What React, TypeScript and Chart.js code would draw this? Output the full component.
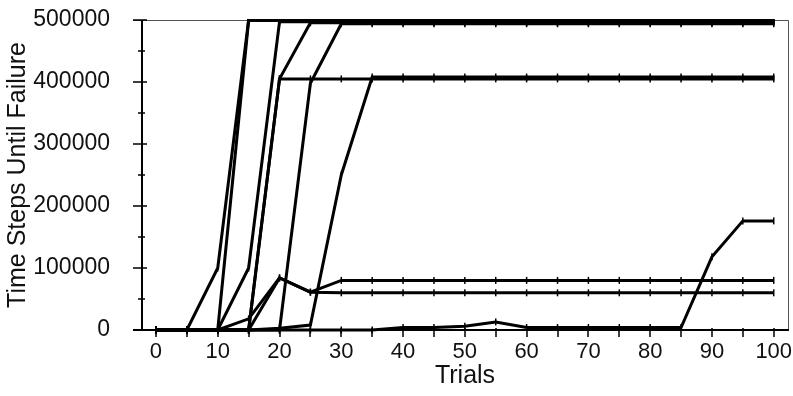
import React, { useEffect, useRef } from "react";
import { Chart, registerables } from "chart.js";

Chart.register(...registerables);

const trials = [0, 5, 10, 15, 20, 25, 30, 35, 40, 45, 50, 55, 60, 65, 70, 75, 80, 85, 90, 95, 100];

const run1 = [0, 0, 100000, 500000, 500000, 500000, 500000, 500000, 500000, 500000, 500000, 500000, 500000, 500000, 500000, 500000, 500000, 500000, 500000, 500000, 500000];
const run2 = [0, 0, 0, 499000, 499000, 499000, 499000, 499000, 499000, 499000, 499000, 499000, 499000, 499000, 499000, 499000, 499000, 499000, 499000, 499000, 499000];
const run3 = [0, 0, 0, 100000, 497000, 497000, 497000, 497000, 497000, 497000, 497000, 497000, 497000, 497000, 497000, 497000, 497000, 497000, 497000, 497000, 497000];
const run4 = [0, 0, 0, 0, 405000, 495500, 495500, 495500, 495500, 495500, 495500, 495500, 495500, 495500, 495500, 495500, 495500, 495500, 495500, 495500, 495500];
const run5 = [0, 0, 0, 0, 0, 398000, 494000, 494000, 494000, 494000, 494000, 494000, 494000, 494000, 494000, 494000, 494000, 494000, 494000, 494000, 494000];
const run6 = [0, 0, 0, 0, 405000, 405000, 405000, 405000, 405000, 405000, 405000, 405000, 405000, 405000, 405000, 405000, 405000, 405000, 405000, 405000, 405000];
const run7 = [0, 0, 0, 0, 3000, 8000, 250000, 408000, 408000, 408000, 408000, 408000, 408000, 408000, 408000, 408000, 408000, 408000, 408000, 408000, 408000];
const run8 = [0, 0, 0, 18000, 84000, 61000, 80000, 80000, 80000, 80000, 80000, 80000, 80000, 80000, 80000, 80000, 80000, 80000, 80000, 80000, 80000];
const run9 = [0, 0, 0, 0, 84000, 61000, 60000, 60000, 60000, 60000, 60000, 60000, 60000, 60000, 60000, 60000, 60000, 60000, 60000, 60000, 60000];
const run10 = [0, 0, 0, 0, 0, 0, 0, 0, 4000, 4000, 6000, 13000, 4000, 4000, 4000, 4000, 4000, 4000, 118000, 176000, 176000];

const runs = [run1, run2, run3, run4, run5, run6, run7, run8, run9, run10];

const xTickLabels = [0, 10, 20, 30, 40, 50, 60, 70, 80, 90, 100];
const xMinorTicks = [0, 5, 10, 15, 20, 25, 30, 35, 40, 45, 50, 55, 60, 65, 70, 75, 80, 85, 90, 95, 100];
const yTicks = [0, 50000, 100000, 150000, 200000, 250000, 300000, 350000, 400000, 450000, 500000];

const FONT = "'Liberation Sans', Arial, sans-serif";

const axesPlugin = {
  id: "customAxes",
  beforeDatasetsDraw(chart: any) {
    const { ctx, chartArea, scales } = chart;
    const { left, right, top, bottom } = chartArea;
    const xs = scales.x;
    const ys = scales.y;
    ctx.save();
    ctx.strokeStyle = "#555";
    ctx.lineWidth = 1;
    ctx.beginPath();
    ctx.moveTo(left - 9, top + 0.5);
    ctx.lineTo(right + 0.5, top + 0.5);
    ctx.lineTo(right + 0.5, bottom);
    ctx.stroke();
    ctx.strokeStyle = "#000";
    ctx.lineWidth = 2;
    ctx.beginPath();
    ctx.moveTo(left, top);
    ctx.lineTo(left, bottom + 1);
    ctx.moveTo(left - 9, bottom);
    ctx.lineTo(right + 1, bottom);
    ctx.stroke();
    ctx.lineWidth = 1.5;
    ctx.beginPath();
    for (const v of yTicks) {
      const py = Math.round(ys.getPixelForValue(v));
      const major = v % 100000 === 0;
      ctx.moveTo(left - (major ? 9 : 4), py);
      ctx.lineTo(left + (major ? 5 : 3), py);
    }
    for (const v of xMinorTicks) {
      const px = Math.round(xs.getPixelForValue(v));
      ctx.moveTo(px, bottom - 2);
      ctx.lineTo(px, bottom + 7);
    }
    ctx.stroke();
    ctx.restore();
  },
};

export default function App() {
  const ref = useRef<HTMLCanvasElement | null>(null);

  useEffect(() => {
    if (!ref.current) return;
    const datasets = runs.map((r, i) => ({
      label: "Run " + (i + 1),
      data: trials.map((t, j) => ({ x: t, y: r[j] })),
      borderColor: "#000",
      backgroundColor: "#000",
      borderWidth: 3,
      pointStyle: "line" as const,
      pointRotation: 90,
      pointRadius: 3.5,
      pointBorderWidth: 1.5,
      pointBorderColor: "#000",
      pointHoverRadius: 3.5,
      fill: false,
      tension: 0,
      clip: { left: 5, top: 1, right: 5, bottom: 5 },
    }));

    const chart = new Chart(ref.current, {
      type: "line",
      data: { datasets },
      options: {
        animation: false,
        responsive: false,
        events: [],
        layout: { padding: { left: 0, top: 20, right: 3, bottom: 0 } },
        plugins: { legend: { display: false }, tooltip: { enabled: false } },
        scales: {
          x: {
            type: "linear",
            min: -2.26,
            max: 102.31,
            grid: { display: false },
            border: { display: false },
            afterBuildTicks: (scale: any) => {
              scale.ticks = xTickLabels.map((v) => ({ value: v }));
            },
            afterFit: (scale: any) => {
              scale.height = 66;
              scale.paddingLeft = 0;
              scale.paddingRight = 0;
            },
            ticks: {
              autoSkip: false,
              maxRotation: 0,
              padding: 1,
              color: "#111",
              font: { family: FONT, size: 22 },
              callback: (v: any) => String(v),
            },
            title: {
              display: true,
              text: "Trials",
              color: "#111",
              font: { family: FONT, size: 25, lineHeight: 1 },
              padding: { top: 0, bottom: 7 },
            },
          },
          y: {
            type: "linear",
            min: 0,
            max: 500000,
            grid: { display: false },
            border: { display: false },
            afterBuildTicks: (scale: any) => {
              scale.ticks = yTicks.filter((v) => v % 100000 === 0).map((v) => ({ value: v }));
            },
            afterFit: (scale: any) => {
              scale.width = 142;
              scale.paddingTop = 0;
              scale.paddingBottom = 0;
            },
            ticks: {
              padding: 24,
              color: "#111",
              font: { family: FONT, size: 23 },
              callback: (v: any) => String(v),
            },
            title: {
              display: true,
              text: "Time Steps Until Failure",
              color: "#111",
              font: { family: FONT, size: 25, lineHeight: 1 },
              padding: { top: 6, bottom: 0 },
            },
          },
        },
      },
      plugins: [axesPlugin],
    });
    return () => chart.destroy();
  }, []);

  return (
    <div style={{ position: "fixed", left: 0, top: 0, width: 793, height: 396, background: "#fff" }}>
      <canvas ref={ref} width={793} height={396} style={{ width: 793, height: 396, display: "block" }} />
    </div>
  );
}
